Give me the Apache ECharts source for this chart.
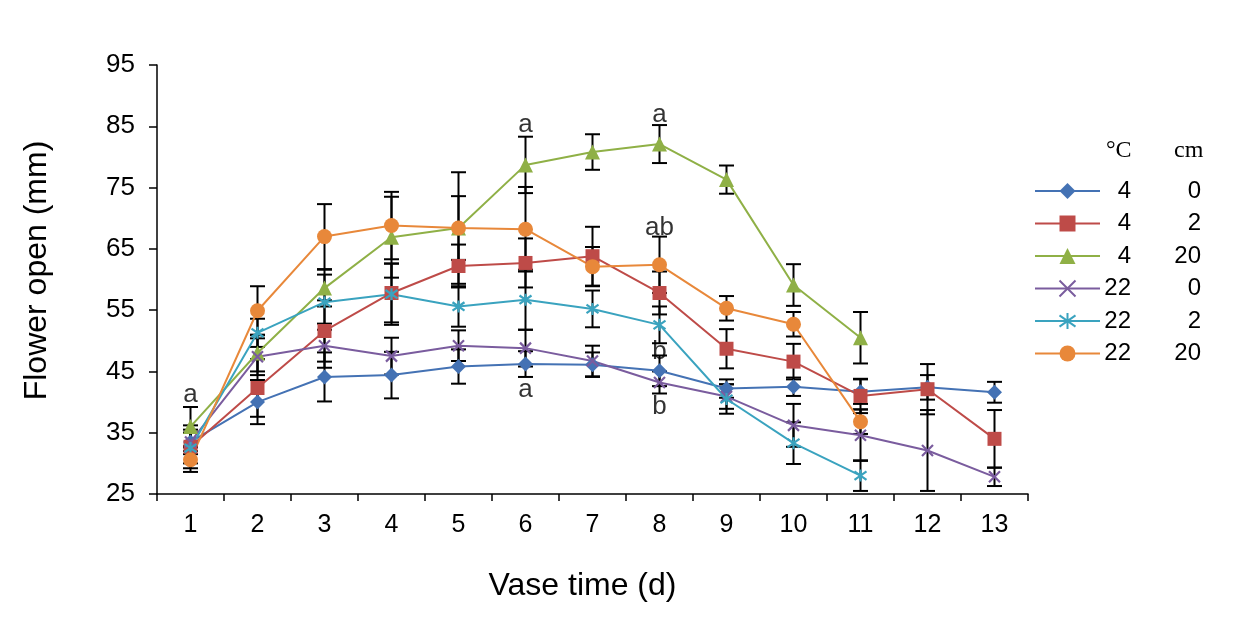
<!DOCTYPE html>
<html>
<head>
<meta charset="utf-8">
<script src="https://cdn.jsdelivr.net/npm/echarts@6/dist/echarts.min.js"></script>
<style>
  html, body { margin: 0; padding: 0; background: #fff; }
  #chart { width: 1248px; height: 625px; }
</style>
</head>
<body>
<div id="chart"></div>
<script>
// vase time (d)
var days = ['1', '2', '3', '4', '5', '6', '7', '8', '9', '10', '11', '12', '13'];

// flower opening (mm), means and error bars per treatment (°C | cm)
var t4c0 = [33.5, 40.0, 44.1, 44.4, 45.8, 46.2, 46.1, 45.1, 42.2, 42.5, 41.7, 42.4, 41.6];
var t4c0Err = [1.5, 3.6, 4.0, 3.8, 2.8, 2.1, 2.0, 2.5, 1.5, 1.5, 2.0, 2.0, 1.7];
var t4c2 = [32.7, 42.3, 51.6, 57.8, 62.2, 62.7, 63.8, 57.8, 48.7, 46.6, 41.0, 42.1, 34.0];
var t4c2Err = [3.5, 4.7, 5.0, 4.8, 3.5, 4.0, 4.8, 3.5, 3.2, 2.9, 2.8, 4.1, 4.7];
var t4c20 = [36.0, 48.0, 58.6, 66.9, 68.4, 78.7, 80.8, 82.1, 76.3, 59.1, 50.5];
var t4c20Err = [3.2, 3.0, 3.0, 6.6, 5.2, 4.6, 2.9, 3.1, 2.3, 3.4, 4.2];
var t22c0 = [33.5, 47.4, 49.2, 47.5, 49.2, 48.8, 46.7, 43.2, 40.9, 36.2, 34.6, 32.1, 27.8];
var t22c0Err = [2.0, 3.0, 3.6, 3.0, 2.5, 3.0, 2.5, 1.8, 2.0, 3.5, 4.2, 6.6, 1.5];
var t22c2 = [32.5, 51.3, 56.3, 57.6, 55.6, 56.7, 55.2, 52.6, 40.5, 33.3, 28.0];
var t22c2Err = [2.5, 2.3, 4.5, 5.0, 3.3, 4.9, 3.0, 3.0, 2.4, 3.4, 2.5];
var t22c20 = [30.6, 54.9, 67.0, 68.8, 68.4, 68.2, 62.1, 62.4, 55.3, 52.7, 36.8];
var t22c20Err = [2.0, 4.0, 5.3, 5.5, 9.1, 6.9, 3.2, 4.6, 2.0, 2.0, 2.0];

// significance letters: [day index, y value, letter]
var letters = [
  [0, 41.2, 'a'],
  [5, 85.3, 'a'],
  [5, 42.0, 'a'],
  [7, 86.8, 'a'],
  [7, 68.4, 'ab'],
  [7, 48.2, 'b'],
  [7, 39.2, 'b']
];

var crossPath = 'path://M0,0L10,10M10,0L0,10';
var starPath = 'path://M5,0L5,10M0,1.5L10,8.5M10,1.5L0,8.5';

var treatments = [
  { name: '4|0', data: t4c0, err: t4c0Err, color: '#4472B4', symbol: 'diamond', size: 15 },
  { name: '4|2', data: t4c2, err: t4c2Err, color: '#BE4B48', symbol: 'rect', size: 14 },
  { name: '4|20', data: t4c20, err: t4c20Err, color: '#8FB046', symbol: 'triangle', size: 15 },
  { name: '22|0', data: t22c0, err: t22c0Err, color: '#7A5C9E', symbol: crossPath, size: 11 },
  { name: '22|2', data: t22c2, err: t22c2Err, color: '#3AA3BF', symbol: starPath, size: 12 },
  { name: '22|20', data: t22c20, err: t22c20Err, color: '#E8883A', symbol: 'circle', size: 15 }
];

var errData = [];
treatments.forEach(function (t) {
  t.data.forEach(function (v, i) {
    errData.push([i, v - t.err[i], v + t.err[i]]);
  });
});

var series = [{
  type: 'custom',
  name: 'err',
  z: 1,
  silent: true,
  data: errData,
  renderItem: function (params, api) {
    var x = api.value(0);
    var lo = api.coord([x, api.value(1)]);
    var hi = api.coord([x, api.value(2)]);
    var w = 7.5;
    var st = { stroke: '#000', lineWidth: 2 };
    return {
      type: 'group',
      children: [
        { type: 'line', shape: { x1: lo[0], y1: lo[1], x2: hi[0], y2: hi[1] }, style: st },
        { type: 'line', shape: { x1: lo[0] - w, y1: lo[1], x2: lo[0] + w, y2: lo[1] }, style: st },
        { type: 'line', shape: { x1: hi[0] - w, y1: hi[1], x2: hi[0] + w, y2: hi[1] }, style: st }
      ]
    };
  }
}];

treatments.forEach(function (t) {
  var open = (t.symbol === crossPath || t.symbol === starPath);
  series.push({
    type: 'line',
    name: t.name,
    data: t.data,
    z: 3,
    symbol: t.symbol,
    symbolSize: t.size,
    showSymbol: true,
    lineStyle: { color: t.color, width: 2 },
    itemStyle: open
      ? { color: t.color, borderColor: t.color, borderWidth: 2.2 }
      : { color: t.color, borderColor: t.color, borderWidth: 0 }
  });
});

series.push({
  type: 'scatter',
  name: 'letters',
  z: 5,
  silent: true,
  symbolSize: 0,
  data: letters.map(function (l) { return { value: [l[0], l[1]], txt: l[2] }; }),
  label: {
    show: true,
    position: 'inside',
    formatter: function (p) { return p.data.txt; },
    fontFamily: 'Liberation Sans, Arial',
    fontSize: 26,
    color: '#000'
  }
});

var chart = echarts.init(document.getElementById('chart'));
chart.setOption({
  animation: false,
  backgroundColor: '#fff',
  grid: { left: 157, top: 65, right: 220, bottom: 131, containLabel: false },
  legend: {
    orient: 'vertical',
    left: 1029,
    top: 174,
    itemWidth: 65,
    itemHeight: 20,
    itemGap: 8.5,
    data: treatments.map(function (t) { return t.name; }),
    formatter: function (name) {
      var p = name.split('|');
      return '{t|' + p[0] + '}{c|' + p[1] + '}';
    },
    textStyle: {
      fontFamily: 'Liberation Sans, Arial',
      fontSize: 24,
      color: '#000',
      rich: {
        t: { width: 26, align: 'right', fontSize: 24, lineHeight: 22 },
        c: { width: 70, align: 'right', fontSize: 24, lineHeight: 22 }
      }
    }
  },
  graphic: [
    { type: 'text', left: 1106, top: 139, style: { text: '°C', font: '24px "Liberation Serif", "Times New Roman", serif', fill: '#000' } },
    { type: 'text', left: 1174, top: 139, style: { text: 'cm', font: '24px "Liberation Serif", "Times New Roman", serif', fill: '#000' } }
  ],
  xAxis: {
    type: 'category',
    data: days,
    boundaryGap: true,
    name: 'Vase time (d)',
    nameLocation: 'middle',
    nameGap: 76,
    nameTextStyle: { fontFamily: 'Liberation Sans, Arial', fontSize: 32, color: '#000', padding: [0, 20, 0, 0] },
    axisLine: { lineStyle: { color: '#000', width: 1.5 } },
    axisTick: { show: true, length: 7, lineStyle: { color: '#000', width: 1.5 } },
    axisLabel: { margin: 19, fontFamily: 'Liberation Sans, Arial', fontSize: 25, color: '#000' },
    splitLine: { show: false }
  },
  yAxis: {
    type: 'value',
    min: 25,
    max: 95,
    interval: 10,
    name: 'Flower open (mm)',
    nameLocation: 'middle',
    nameGap: 104,
    nameRotate: 90,
    nameTextStyle: { fontFamily: 'Liberation Sans, Arial', fontSize: 32, color: '#000', padding: [0, 0, 0, 18] },
    axisLine: { show: true, lineStyle: { color: '#000', width: 1.5 } },
    axisTick: { show: true, length: 8, lineStyle: { color: '#000', width: 1.5 } },
    axisLabel: { margin: 22, fontFamily: 'Liberation Sans, Arial', fontSize: 26, color: '#000' },
    splitLine: { show: false }
  },
  series: series
});
</script>
</body>
</html>
